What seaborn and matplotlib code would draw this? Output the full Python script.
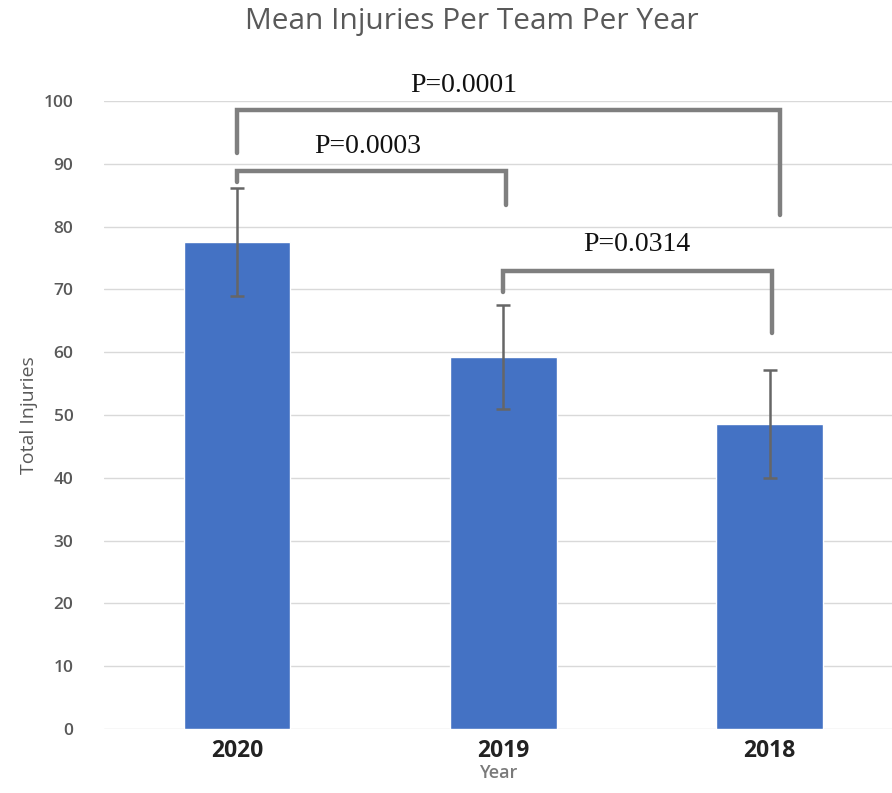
import pandas as pd
import numpy as np
import matplotlib.pyplot as plt
import seaborn as sns

years = ["2020", "2019", "2018"]
mean_injuries = [77.6, 59.2, 48.5]
error = [8.6, 8.3, 8.6]

# significance brackets: (left x, right x, top y, left leg end, right leg end, label, text x, text y)
brackets = [
    (0, 2.04, 98.6, 91.7, 81.8, "P=0.0001", 0.85, 102.4),
    (0, 1.01, 88.9, 87.1, 83.4, "P=0.0003", 0.49, 92.7),
    (1.0, 2.01, 72.9, 69.6, 63.1, "P=0.0314", 1.5, 77.2),
]

df = pd.DataFrame({"Year": years, "Injuries": mean_injuries})

sns.set_style("white")
plt.rcParams["font.family"] = ["Open Sans", "DejaVu Sans"]

fig = plt.figure(figsize=(8.92, 7.93), dpi=100)
ax = fig.add_axes([104 / 892, 64 / 793, 1 - 104 / 892, 628 / 793])

sns.barplot(data=df, x="Year", y="Injuries", color="#4472C4", width=0.4,
            saturation=1, ax=ax, zorder=2)
ax.errorbar(np.arange(len(years)), mean_injuries, yerr=error, fmt="none",
            ecolor="#666666", elinewidth=1.8, capsize=5, capthick=1.8, zorder=3)

for x1, x2, yb, y1, y2, label, tx, ty in brackets:
    ax.plot([x1, x1, x2, x2], [y1, yb, yb, y2], color="#7f7f7f", lw=3.2,
            solid_joinstyle="miter", clip_on=False, zorder=4)
    ax.text(tx, ty, label, ha="center", va="center", fontsize=20,
            family="Liberation Serif", color="#111111")

ax.set_ylim(0, 100)
ax.set_xlim(-0.5, 2.46)
ax.set_yticks(range(0, 101, 10))
ax.yaxis.grid(True, color="#d9d9d9", lw=1)
ax.set_axisbelow(True)
for s in ax.spines.values():
    s.set_visible(False)
ax.tick_params(axis="y", length=0, labelsize=12.5, labelcolor="#595959", pad=22)
ax.tick_params(axis="x", length=0, labelsize=16.5, pad=7)
for t in ax.get_xticklabels():
    t.set_fontweight("bold")
    t.set_color("#222222")
for t in ax.get_yticklabels():
    t.set_fontweight("semibold")

ax.set_ylabel("Total Injuries", fontsize=14, color="#595959", labelpad=4)
ax.set_xlabel("Year", fontsize=13, color="#7a7a7a", fontweight="semibold", labelpad=1)
fig.text(472 / 892, 1 - 22 / 793, "Mean Injuries Per Team Per Year",
         ha="center", va="center", fontsize=21.5, color="#595959")

fig.savefig("out.png", dpi=100)
